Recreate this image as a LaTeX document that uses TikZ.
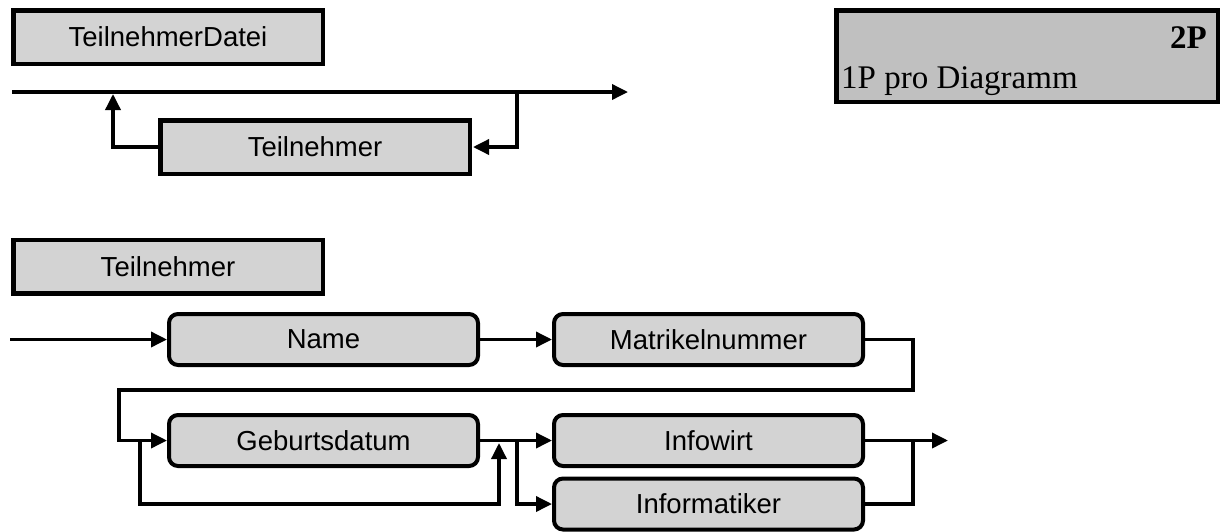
\documentclass[tikz,border=0pt]{standalone}
\usepackage{fontspec}
\setmainfont{Liberation Serif}
\setsansfont{Liberation Sans}
\usetikzlibrary{arrows.meta}
\definecolor{boxgray}{HTML}{D3D3D3}
\definecolor{notegray}{HTML}{C0C0C0}
\tikzset{
  plainbox/.style={draw, line width=4.5pt, fill=boxgray, minimum width=309.5pt, minimum height=53.5pt, inner sep=0pt, font=\sffamily\fontsize{27.5}{32}\selectfont},
  roundbox/.style={draw, line width=4pt, fill=boxgray, rounded corners=9pt, minimum width=309pt, minimum height=51pt, inner sep=0pt, font=\sffamily\fontsize{27.5}{32}\selectfont},
  conn/.style={line width=3.5pt},
  arr/.style={conn, -{Triangle[length=16pt,width=15pt]}},
}
\begin{document}
\begin{tikzpicture}[x=1pt, y=-1pt]
\useasboundingbox (0,0) rectangle (1225,531);
% note box
\node[draw, line width=4.5pt, fill=notegray, minimum width=381.5pt, minimum height=91.5pt, inner sep=0pt] (note) at (1027,56) {};
\node[anchor=base east, inner sep=0pt, font=\bfseries\fontsize{33}{38}\selectfont] (pts) at (1207,48) {2P};
\node[anchor=base west, inner sep=0pt, font=\fontsize{33}{38}\selectfont] (ppd) at (841,88) {1P pro Diagramm};
% top diagram
\node[plainbox] (tdatei) at (168,37) {TeilnehmerDatei};
\node[plainbox] (tm) at (315,147) {Teilnehmer};
\coordinate (tin) at (12,92);
\coordinate (tout) at (628,92);
\coordinate (tj1) at (113,94);
\coordinate (tj2) at (517,92);
\draw[arr] (tin) -- (tout);
\draw[arr] (tm.west) -| (tj1);
\draw[arr, shorten >=1pt] (tj2) |- (tm.east);
% bottom diagram
\node[plainbox] (theader) at (168,266.5) {Teilnehmer};
\node[roundbox] (name) at (323.5,339.5) {Name};
\node[roundbox] (matr) at (708.5,339.5) {Matrikelnummer};
\node[roundbox] (geb) at (323.5,440.5) {Geburtsdatum};
\node[roundbox] (info) at (708.5,440.5) {Infowirt};
\node[roundbox] (infk) at (708.5,504) {Informatiker};
\coordinate (bin) at (10,339.5);
\draw[arr] (bin) -- (name.west);
\draw[arr] (name.east) -- (matr.west);
\coordinate (ra) at (913,390);
\coordinate (rb) at (119,390);
\draw[arr] (matr.east) -| (ra) -- (rb) |- (geb.west);
\coordinate (la) at (140,440.5);
\coordinate (lb) at (140,504);
\coordinate (lc) at (499,504);
\coordinate (ld) at (499,443);
\draw[arr] (la) -- (lb) -- (lc) -- (ld);
\draw[arr] (geb.east) -- (info.west);
\coordinate (sa) at (517,440.5);
\draw[arr] (sa) |- (infk.west);
\coordinate (oa) at (913,440.5);
\coordinate (out) at (948,440.5);
\draw[conn] (infk.east) -| (oa);
\draw[arr] (info.east) -- (out);
\end{tikzpicture}
\end{document}
